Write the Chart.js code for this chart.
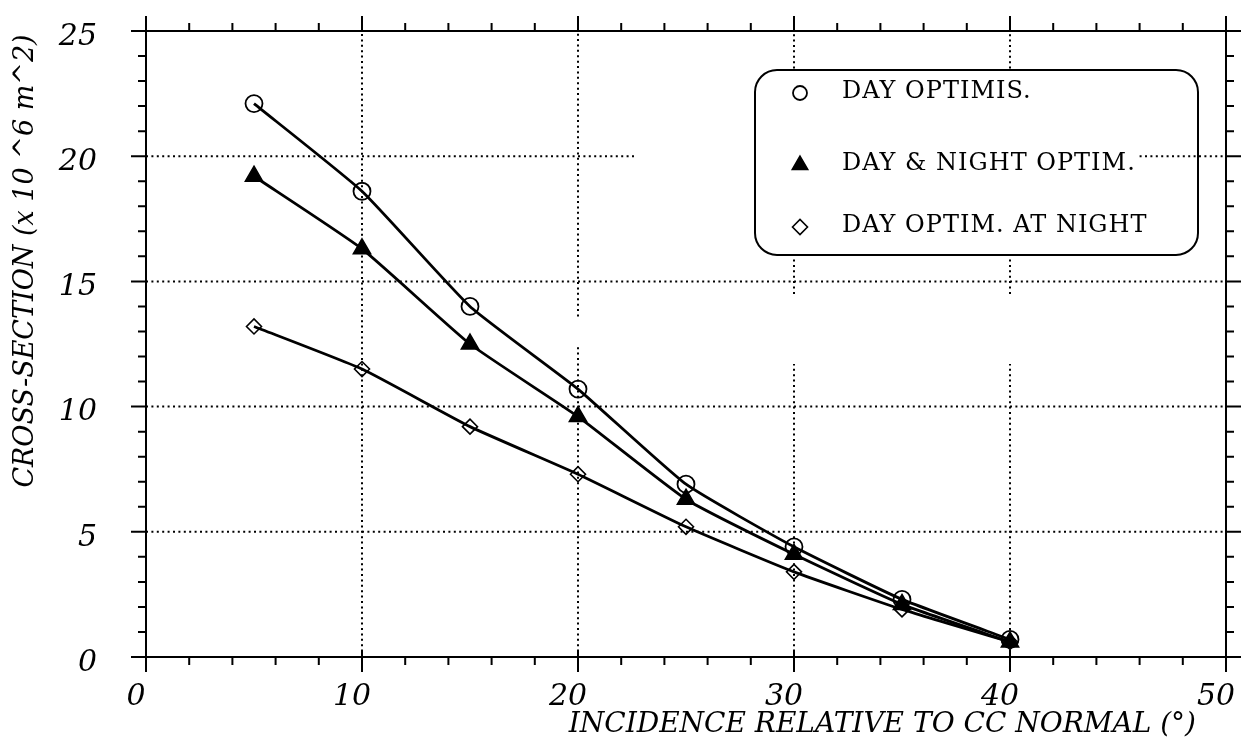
<!DOCTYPE html>
<html>
<head>
<meta charset="utf-8">
<script src="https://cdn.jsdelivr.net/npm/chart.js@4.4.1/dist/chart.umd.min.js"></script>
<style>
  html, body { margin: 0; padding: 0; background: #fff; }
  #wrap { width: 1250px; height: 751px; }
</style>
</head>
<body>
<div id="wrap"><canvas id="c" width="1250" height="751"></canvas></div>
<script>
// Incidence angle (degrees) and cross-section (x 10^6 m^2) for each optimisation case
const incidence       = [5, 10, 15, 20, 25, 30, 35, 40];
const dayOptimis      = [22.1, 18.6, 14.0, 10.7, 6.9, 4.4, 2.3, 0.7];
const dayNightOptim   = [19.2, 16.3, 12.5, 9.6, 6.3, 4.1, 2.1, 0.6];
const dayOptimAtNight = [13.2, 11.5, 9.2, 7.3, 5.2, 3.4, 1.9, 0.6];

const seriesLabels = ['DAY OPTIMIS.', 'DAY & NIGHT OPTIM.', 'DAY OPTIM. AT NIGHT'];
const xTickValues = [0, 10, 20, 30, 40, 50];
const yTickValues = [0, 5, 10, 15, 20, 25];
const xTitle = 'INCIDENCE RELATIVE TO CC NORMAL (°)';
const yTitle = 'CROSS-SECTION (x 10 ^6 m^2)';

const pts = ys => incidence.map((x, i) => ({ x, y: ys[i] }));
const SERIF = "'DejaVu Serif', 'Liberation Serif', serif";

// Dotted grid segments, given in axis units: [value, [[from, to], ...]]
const gridVertical = [
  [10, [[0, 25]]],
  [20, [[0, 12.4], [13.6, 25]]],
  [30, [[0, 11.7], [14.5, 15.9], [23.5, 25]]],
  [40, [[0, 11.7], [14.5, 15.9], [23.5, 25]]]
];
const gridHorizontal = [
  [5,  [[0, 50]]],
  [10, [[0, 50]]],
  [15, [[0, 50]]],
  [20, [[0, 22.6], [46, 50]]]
];

const framePlugin = {
  id: 'frame',
  beforeDatasetsDraw(chart) {
    const { ctx, scales: { x, y } } = chart;
    ctx.save();
    ctx.strokeStyle = '#000';
    ctx.lineWidth = 2;
    ctx.setLineDash([2, 3.4]);
    for (const [v, segs] of gridVertical) {
      const px = x.getPixelForValue(v);
      for (const [a, b] of segs) {
        ctx.beginPath();
        ctx.moveTo(px, y.getPixelForValue(a));
        ctx.lineTo(px, y.getPixelForValue(b));
        ctx.stroke();
      }
    }
    for (const [v, segs] of gridHorizontal) {
      const py = y.getPixelForValue(v);
      for (const [a, b] of segs) {
        ctx.beginPath();
        ctx.moveTo(x.getPixelForValue(a), py);
        ctx.lineTo(x.getPixelForValue(b), py);
        ctx.stroke();
      }
    }
    ctx.restore();
  },
  afterDraw(chart) {
    const { ctx, chartArea: ca, scales: { x, y } } = chart;
    ctx.save();
    ctx.strokeStyle = '#000';
    ctx.lineWidth = 2;
    ctx.setLineDash([]);
    // axis frame
    ctx.strokeRect(ca.left, ca.top, ca.right - ca.left, ca.bottom - ca.top);
    // ticks on all four sides, pointing outward
    ctx.beginPath();
    for (let v = 0; v <= 50; v += 2) {
      const px = x.getPixelForValue(v);
      const major = v % 10 === 0;
      const len = major ? 15 : 8;
      ctx.moveTo(px, ca.bottom - (major ? 6 : 0)); ctx.lineTo(px, ca.bottom + len);
      ctx.moveTo(px, ca.top); ctx.lineTo(px, ca.top - len);
    }
    for (let v = 0; v <= 25; v += 1) {
      const py = y.getPixelForValue(v);
      const major = v % 5 === 0;
      const len = major ? 15 : 8;
      ctx.moveTo(ca.left, py); ctx.lineTo(ca.left - len, py);
      ctx.moveTo(ca.right, py); ctx.lineTo(ca.right + len, py);
    }
    ctx.stroke();

    // axis titles
    ctx.fillStyle = '#000';
    ctx.font = "italic 28px " + SERIF;
    ctx.textBaseline = 'middle';
    ctx.textAlign = 'right';
    ctx.fillText(xTitle, 1196, 725);
    ctx.save();
    ctx.translate(26, 261);
    ctx.rotate(-Math.PI / 2);
    ctx.textAlign = 'center';
    ctx.font = "italic 27px " + SERIF;
    ctx.fillText(yTitle, 0, 0);
    ctx.restore();

    // legend box
    const bx = 755, by = 70, bw = 443, bh = 185, r = 22;
    ctx.lineWidth = 2;
    ctx.strokeStyle = '#000';
    ctx.beginPath();
    ctx.roundRect(bx, by, bw, bh, r);
    ctx.stroke();
    const rows = [93, 165, 227];
    chart.data.datasets.forEach((ds, i) => {
      const my = rows[i];
      ctx.fillStyle = ds.pointBackgroundColor;
      ctx.strokeStyle = '#000';
      ctx.lineWidth = ds.pointBorderWidth;
      Chart.helpers.drawPoint(ctx, {
        pointStyle: ds.pointStyle,
        radius: ds.legendRadius,
        borderWidth: ds.pointBorderWidth,
        rotation: 0
      }, 800, my);
      ctx.fillStyle = '#000';
      ctx.font = "24px " + SERIF;
      ctx.textAlign = 'left';
      ctx.textBaseline = 'middle';
      ctx.letterSpacing = '1px';
      ctx.fillText(ds.label, 842, my - 1);
      ctx.letterSpacing = '0px';
    });
    ctx.restore();
  }
};

const noPadX = s => { s.height = 94; s.paddingLeft = 0; s.paddingRight = 0; };
const noPadY = s => { s.width = 146; s.paddingTop = 0; s.paddingBottom = 0; };

new Chart(document.getElementById('c'), {
  type: 'line',
  data: {
    datasets: [
      {
        label: seriesLabels[0], data: pts(dayOptimis),
        pointStyle: 'circle', pointRadius: 8.5, legendRadius: 7,
        pointBackgroundColor: 'rgba(0,0,0,0)', pointBorderColor: '#000', pointBorderWidth: 1.8
      },
      {
        label: seriesLabels[1], data: pts(dayNightOptim),
        pointStyle: 'triangle', pointRadius: 10, legendRadius: 9,
        pointBackgroundColor: '#000', pointBorderColor: '#000', pointBorderWidth: 1.5
      },
      {
        label: seriesLabels[2], data: pts(dayOptimAtNight),
        pointStyle: 'rectRot', pointRadius: 7.5, legendRadius: 7.5,
        pointBackgroundColor: 'rgba(0,0,0,0)', pointBorderColor: '#000', pointBorderWidth: 1.6
      }
    ].map(d => Object.assign({
      borderColor: '#000', borderWidth: 2.8, tension: 0.15, fill: false,
      pointHoverRadius: 8
    }, d))
  },
  options: {
    responsive: false,
    animation: false,
    devicePixelRatio: 1,
    layout: { padding: { top: 31, right: 24, left: 0, bottom: 0 } },
    plugins: { legend: { display: false }, tooltip: { enabled: false } },
    scales: {
      x: {
        type: 'linear', min: 0, max: 50,
        afterBuildTicks: s => { s.ticks = xTickValues.map(value => ({ value })); },
        afterFit: noPadX,
        grid: { display: false, drawTicks: false },
        border: { display: false },
        ticks: {
          color: '#000', padding: 22, labelOffset: -10, maxRotation: 0,
          font: { family: SERIF, size: 30, style: 'italic' }
        }
      },
      y: {
        type: 'linear', min: 0, max: 25,
        afterBuildTicks: s => { s.ticks = yTickValues.map(value => ({ value })); },
        afterFit: noPadY,
        grid: { display: false, drawTicks: false },
        border: { display: false },
        ticks: {
          color: '#000', padding: 49, labelOffset: 6,
          font: { family: SERIF, size: 30, style: 'italic' }
        }
      }
    }
  },
  plugins: [framePlugin]
});
</script>
</body>
</html>
